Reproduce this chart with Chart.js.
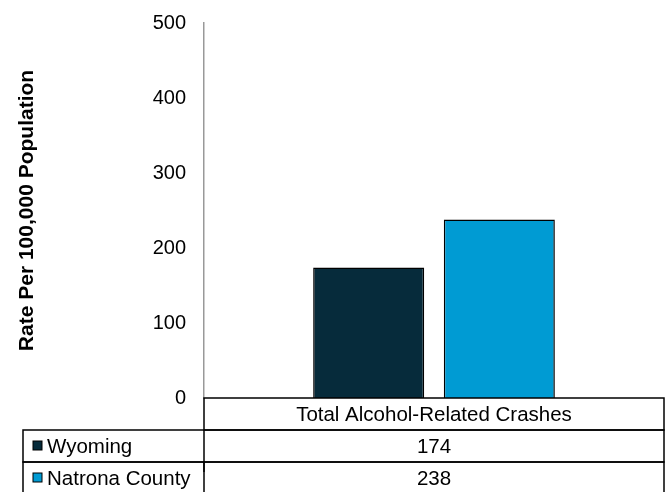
<!DOCTYPE html>
<html>
<head>
<meta charset="utf-8">
<script src="https://cdn.jsdelivr.net/npm/chart.js@4"></script>
<style>
  html, body { margin: 0; padding: 0; background: #fff; }
  #wrap { width: 670px; height: 492px; }
</style>
</head>
<body>
<div id="wrap"><canvas id="crashChart" width="670" height="492"></canvas></div>
<script>
// data
const categories = ["Total Alcohol-Related Crashes"];
const seriesNames = ["Wyoming", "Natrona County"];
const wyomingValues = [174];
const natronaValues = [238];
const seriesColors = ["#062b3b", "#009bd3"];
const yTicks = [0, 100, 200, 300, 400, 500];

const FONT = "'Liberation Sans', Arial, sans-serif";

// data table under the plot (Excel style)
const dataTablePlugin = {
  id: "dataTable",
  afterDraw(chart) {
    const c = chart.ctx;
    const area = chart.chartArea;
    const xs = chart.scales.x;
    const rowH = 32;
    const top = area.bottom;
    const left = 23;
    const rows = [wyomingValues, natronaValues];

    c.save();
    c.strokeStyle = "#000";
    c.lineWidth = 1.5;
    // header row
    c.strokeRect(area.left, top, area.right - area.left, rowH);
    // series rows
    for (let i = 0; i < rows.length; i++) {
      const y = top + rowH * (i + 1);
      c.strokeRect(left, y, area.right - left, rowH + (i === rows.length - 1 ? 10 : 0));
      c.beginPath();
      c.moveTo(area.left, y);
      c.lineTo(area.left, y + rowH + 10);
      c.stroke();
    }

    c.fillStyle = "#000";
    c.font = "20.5px " + FONT;
    c.textBaseline = "middle";
    c.textAlign = "center";
    categories.forEach((cat, j) => {
      const cx = xs.getPixelForValue(j);
      c.fillText(cat, cx, top + rowH / 2 + 1);
      rows.forEach((vals, i) => {
        c.fillText(String(vals[j]), cx, top + rowH * (i + 1) + rowH / 2 + 1);
      });
    });

    // legend keys + series names
    c.textAlign = "left";
    seriesNames.forEach((name, i) => {
      const cy = top + rowH * (i + 1) + rowH / 2;
      c.fillStyle = seriesColors[i];
      c.fillRect(33, cy - 5, 9, 9);
      c.lineWidth = 1;
      c.strokeStyle = "#000";
      c.strokeRect(33, cy - 5, 9, 9);
      c.fillStyle = "#000";
      c.fillText(name, 47, cy + 1);
    });
    c.restore();
  }
};

new Chart(document.getElementById("crashChart"), {
  type: "bar",
  data: {
    labels: categories,
    datasets: [
      {
        label: seriesNames[0],
        data: wyomingValues,
        backgroundColor: seriesColors[0],
        borderColor: "#000",
        borderWidth: 1.5,
        barPercentage: 0.85,
        categoryPercentage: 0.568,
      },
      {
        label: seriesNames[1],
        data: natronaValues,
        backgroundColor: seriesColors[1],
        borderColor: "#000",
        borderWidth: 1.5,
        barPercentage: 0.85,
        categoryPercentage: 0.568,
      },
    ],
  },
  options: {
    responsive: false,
    animation: false,
    layout: { padding: { top: 23, right: 6, bottom: 94, left: 0 } },
    plugins: { legend: { display: false }, tooltip: { enabled: false } },
    scales: {
      x: {
        display: false,
        grid: { display: false },
      },
      y: {
        min: 0,
        max: 500,
        afterBuildTicks: (scale) => {
          scale.ticks = yTicks.map((v) => ({ value: v }));
        },
        afterFit: (scale) => {
          scale.width = 204;
          scale.paddingTop = 0;
          scale.paddingBottom = 0;
        },
        grid: { display: false, drawTicks: false },
        border: { display: true, color: "#999", width: 1.5 },
        ticks: {
          color: "#000",
          padding: 18,
          font: { family: FONT, size: 20 },
        },
        title: {
          display: true,
          text: "Rate Per 100,000 Population",
          color: "#000",
          font: { family: FONT, size: 21, weight: "bold" },
          padding: { top: 15, bottom: 0 },
        },
      },
    },
  },
  plugins: [dataTablePlugin],
});
</script>
</body>
</html>
